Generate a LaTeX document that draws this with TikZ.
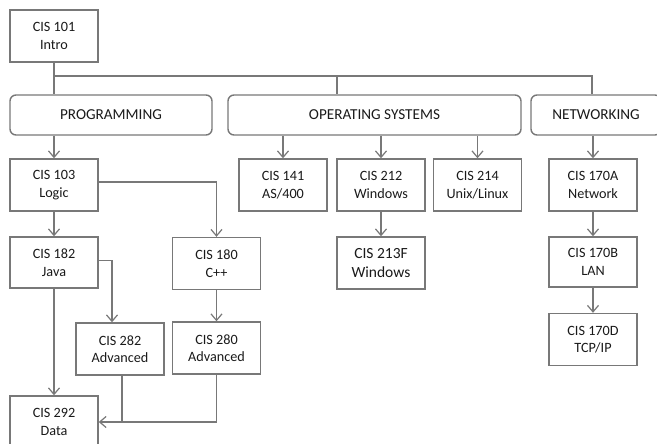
\documentclass[tikz,border=0pt]{standalone}
\usepackage{fontspec}
\setmainfont{Carlito}
\usetikzlibrary{arrows.meta}
\definecolor{lineg}{HTML}{787878}
\definecolor{txt}{HTML}{1A1A1A}
\tikzset{
  course/.style={draw=lineg, line width=1.4pt, fill=white, minimum width=88pt, minimum height=52pt,
    inner sep=0pt, align=center, text=txt, font=\fontsize{14.2}{17.5}\selectfont},
  bigcourse/.style={course, font=\fontsize{15.5}{19}\selectfont},
  area/.style={draw=lineg, line width=1.4pt, rounded corners=6pt, minimum height=40pt,
    inner sep=0pt, text=txt, font=\fontsize{15.2}{18}\selectfont},
  link/.style={draw=lineg, line width=1.3pt},
  arr/.style={link, -{Straight Barb[length=6.5pt,width=11pt,line width=1.2pt]}}
}
\begin{document}
\begin{tikzpicture}[x=1pt,y=-1pt]
\useasboundingbox (0,0) rectangle (657,444);
% nodes
\node[course] (c101) at (54,36) {CIS 101\\Intro};
\node[area, minimum width=202pt] (prog) at (111,115) {PROGRAMMING};
\node[area, minimum width=293pt] (os) at (374.5,115) {OPERATING SYSTEMS};
\node[area, minimum width=130pt] (net) at (596,115) {NETWORKING};
\node[course] (c103) at (54,185) {CIS 103\\Logic};
\node[course] (c141) at (283,185) {CIS 141\\AS/400};
\node[course] (c212) at (381,185) {CIS 212\\Windows};
\node[course] (c214) at (477.5,185) {CIS 214\\Unix/Linux};
\node[course] (c170a) at (593,185) {CIS 170A\\Network};
\node[course, minimum height=51pt] (c182) at (54,262.5) {CIS 182\\Java};
\node[course] (c180) at (216.5,263.5) {CIS 180\\C++};
\node[bigcourse] (c213f) at (381,263) {CIS 213F\\Windows};
\node[course, minimum height=50pt] (c170b) at (593,262) {CIS 170B\\LAN};
\node[course] (c282) at (120,349) {CIS 282\\Advanced};
\node[course] (c280) at (216.5,348) {CIS 280\\Advanced};
\node[course] (c292) at (54,422) {CIS 292\\Data};
\node[course] (c170d) at (593,339.5) {CIS 170D\\TCP/IP};
% bus
\coordinate (busL) at (54,76);
\coordinate (busOS) at (337,76);
\coordinate (busR) at (592,76);
\draw[link] (c101.south) -- (c101.south |- prog.north);
\draw[link] (busL) -- (busR) -- (busR |- net.north);
\draw[link] (busOS) -- (busOS |- os.north);
% area to courses
\draw[arr] (c103.north |- prog.south) -- (c103.north);
\draw[arr] (c141.north |- os.south) -- (c141.north);
\draw[arr] (c212.north |- os.south) -- (c212.north);
\draw[arr] (c214.north |- os.south) -- (c214.north);
\draw[arr] (c170a.north |- net.south) -- (c170a.north);
% course links
\draw[arr] ([yshift=3pt]c103.east) -| (c180.north);
\draw[arr] (c103) -- (c182);
\draw[arr] ([yshift=2pt]c182.east) -| ([xshift=-8pt]c282.north);
\draw[arr] (c182) -- (c292);
\draw[arr] (c180) -- (c280);
\draw[arr] (c212) -- (c213f);
\draw[arr] (c170a) -- (c170b);
\draw[arr] (c170b) -- (c170d);
\draw[link] ([xshift=2pt]c282.south) -- ([xshift=2pt]c282.south |- c292.east);
\draw[arr] (c280.south) |- (c292.east);
\end{tikzpicture}
\end{document}
